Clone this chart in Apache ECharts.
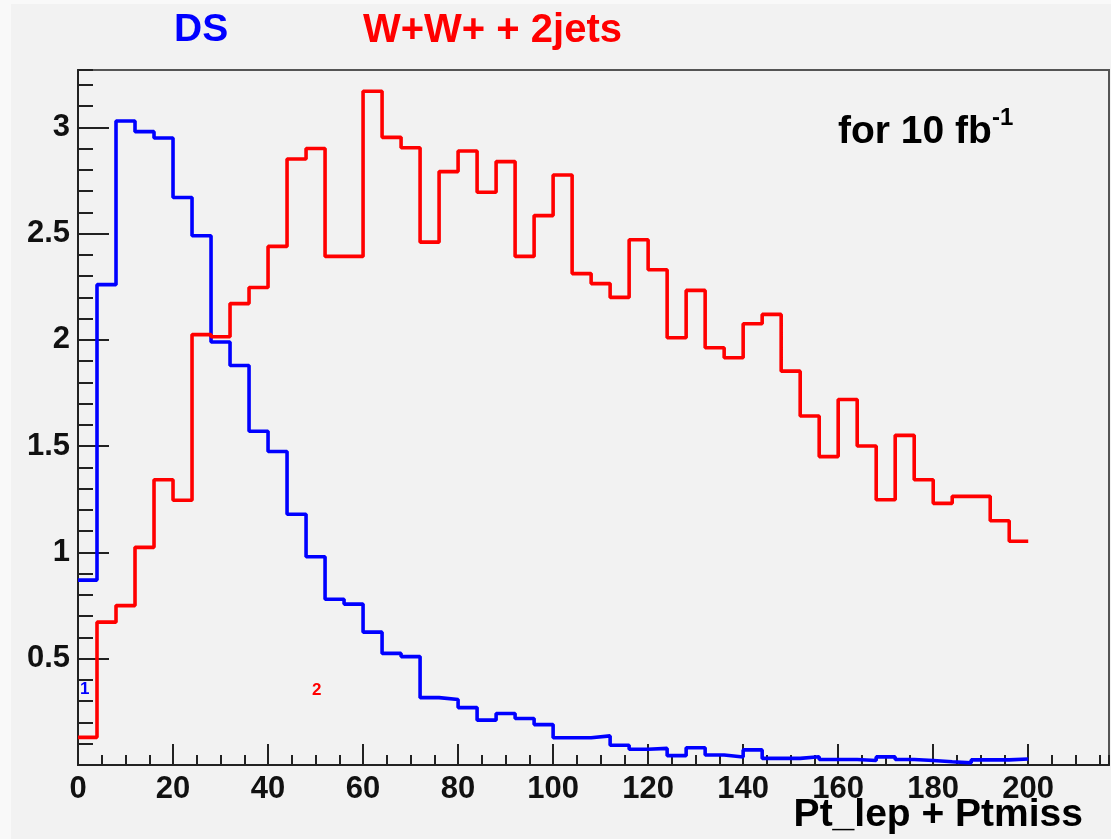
<!DOCTYPE html>
<html>
<head>
<meta charset="utf-8">
<script src="https://cdn.jsdelivr.net/npm/echarts@6/dist/echarts.min.js"></script>
<style>
	html, body { margin: 0; padding: 0; background: #f2f2f2; }
	#main { width: 1111px; height: 839px; }
</style>
</head>
<body>
<div id="main"></div>
<script>
// bin width 4, 50 bins from 0 to 200
const binWidth = 4;
const nBins = 50;

// DS (blue)
const dsValues = [
	0.87, 2.26, 3.03, 2.98, 2.95, 2.67, 2.49, 1.99, 1.88, 1.57,
	1.475, 1.18, 0.98, 0.78, 0.757, 0.625, 0.525, 0.51, 0.317, 0.308,
	0.27, 0.211, 0.242, 0.219, 0.19, 0.128, 0.128, 0.137, 0.093, 0.074,
	0.078, 0.044, 0.081, 0.047, 0.038, 0.071, 0.031, 0.031, 0.039, 0.026,
	0.026, 0.021, 0.038, 0.026, 0.021, 0.015, 0.01, 0.024, 0.024, 0.028
];

// W+W+ + 2jets (red)
const wwValues = [
	0.13, 0.672, 0.75, 1.024, 1.342, 1.246, 2.025, 2.015, 2.171, 2.247,
	2.44, 2.851, 2.901, 2.393, 2.393, 3.17, 2.953, 2.904, 2.46, 2.792,
	2.889, 2.695, 2.839, 2.393, 2.585, 2.776, 2.312, 2.265, 2.2, 2.471,
	2.33, 2.01, 2.233, 1.963, 1.916, 2.076, 2.12, 1.853, 1.642, 1.451,
	1.72, 1.501, 1.248, 1.551, 1.342, 1.231, 1.264, 1.264, 1.149, 1.053
];

const binEdges = [];
for (let i = 0; i <= nBins; i++) binEdges.push(i * binWidth);

// step points at left edges + closing point at the last edge
function histData(vals) {
	return binEdges.map((x, i) => [x, vals[Math.min(i, vals.length - 1)]]);
}

const FONT = 'Liberation Sans, Arial, Helvetica, sans-serif';

const myChart = echarts.init(document.getElementById('main'), null, { renderer: 'canvas' });

const option = {
	backgroundColor: '#f2f2f2',
	animation: false,
	grid: {
		left: 78, right: 2, top: 70, bottom: 74,
		show: true,
		borderColor: '#555',
		borderWidth: 2,
		backgroundColor: 'transparent'
	},
	xAxis: [
		{
			type: 'value', min: 0, max: 217, interval: 20,
			axisLine: { onZero: false, lineStyle: { color: '#222', width: 2 } },
			axisTick: { inside: true, length: 21, lineStyle: { color: '#222', width: 2 } },
			axisLabel: {
				margin: 9, color: '#111', fontSize: 31, fontWeight: 'bold', fontFamily: FONT,
				showMaxLabel: false
			},
			splitLine: { show: false }
		},
		{
			// minor ticks every 5
			type: 'value', min: 0, max: 217, interval: 5, position: 'bottom',
			axisLine: { show: false },
			axisTick: { inside: true, length: 10, lineStyle: { color: '#222', width: 2 } },
			axisLabel: { show: false },
			splitLine: { show: false }
		}
	],
	yAxis: [
		{
			type: 'value', min: 0, max: 3.27, interval: 0.5,
			axisLine: { show: true, onZero: false, lineStyle: { color: '#222', width: 2 } },
			axisTick: { show: true, inside: true, length: 31, lineStyle: { color: '#222', width: 2 } },
			axisLabel: {
				margin: 8, color: '#111', fontSize: 31, fontWeight: 'bold', fontFamily: FONT,
				showMaxLabel: false,
				formatter: v => (v === 0 ? '' : String(v))
			},
			splitLine: { show: false }
		},
		{
			// minor ticks every 0.1
			type: 'value', min: 0, max: 3.27, interval: 0.1, position: 'left',
			axisLine: { show: false },
			axisTick: { show: true, inside: true, length: 15, lineStyle: { color: '#222', width: 2 } },
			axisLabel: { show: false },
			splitLine: { show: false }
		}
	],
	series: [
		{
			name: 'DS',
			type: 'line',
			step: 'end',
			data: histData(dsValues),
			symbol: 'none',
			lineStyle: { color: '#0000ff', width: 3.6 },
			z: 3
		},
		{
			name: 'W+W+ + 2jets',
			type: 'line',
			step: 'end',
			data: histData(wwValues),
			symbol: 'none',
			lineStyle: { color: '#ff0000', width: 3.6 },
			z: 4
		}
	],
	graphic: [
		{ type: 'rect', left: 0, top: 0, shape: { width: 11, height: 839 }, style: { fill: '#f9f9f9' }, silent: true },
		{ type: 'rect', left: 0, top: 0, shape: { width: 1111, height: 4 }, style: { fill: '#f9f9f9' }, silent: true },
		{
			type: 'text', left: 174, top: 11,
			style: { text: 'DS', fill: '#0000ff', font: 'bold 39px ' + FONT }
		},
		{
			type: 'text', left: 363, top: 11,
			style: { text: 'W+W+ + 2jets', fill: '#ff0000', font: 'bold 40px ' + FONT }
		},
		{
			type: 'text', left: 838, top: 113,
			style: { text: 'for 10 fb', fill: '#000', font: 'bold 39px ' + FONT }
		},
		{
			type: 'text', left: 992, top: 106,
			style: { text: '-1', fill: '#000', font: 'bold 24px ' + FONT }
		},
		{
			type: 'text', right: 28, top: 796,
			style: { text: 'Pt_lep + Ptmiss', fill: '#000', font: 'bold 39px ' + FONT }
		},
		{
			type: 'text', left: 80, top: 681,
			style: { text: '1', fill: '#0000ff', font: 'bold 17px ' + FONT }
		},
		{
			type: 'text', left: 312, top: 682,
			style: { text: '2', fill: '#ff0000', font: 'bold 17px ' + FONT }
		}
	]
};

myChart.setOption(option);
</script>
</body>
</html>
